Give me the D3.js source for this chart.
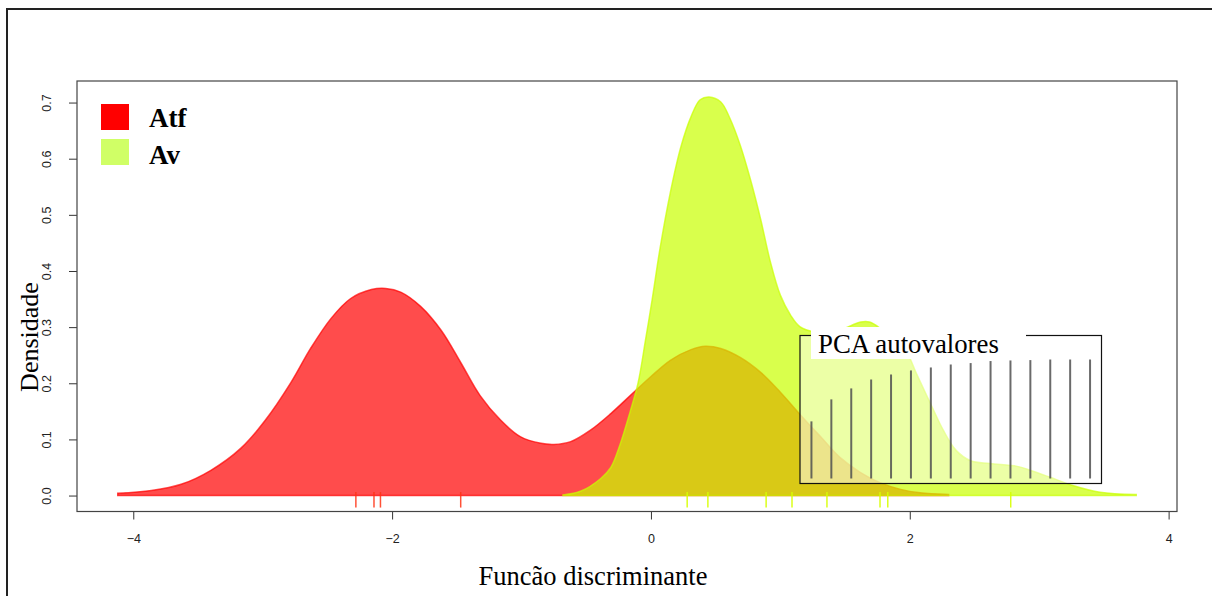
<!DOCTYPE html>
<html>
<head>
<meta charset="utf-8">
<script src="https://cdn.jsdelivr.net/npm/d3@7"></script>
<style>
body { margin: 0; background: #fff; }
svg { display: block; }
</style>
</head>
<body>
<script>
// densities along the discriminant function
var atfX = [-4.12, -3.86, -3.63, -3.40, -3.17, -2.98, -2.78, -2.63, -2.47, -2.32, -2.16, -2.05, -1.93,
	-1.78, -1.62, -1.47, -1.32, -1.16, -1.01, -0.85, -0.75, -0.62, -0.47, -0.31, -0.16, 0.00, 0.15,
	0.31, 0.42, 0.54, 0.69, 0.85, 1.00, 1.15, 1.31, 1.46, 1.62, 1.77, 1.93, 2.08, 2.30]
var atfDens = [0.004, 0.009, 0.020, 0.045, 0.084, 0.134, 0.202, 0.262, 0.316, 0.351, 0.367, 0.369, 0.362,
	0.337, 0.294, 0.237, 0.178, 0.134, 0.105, 0.093, 0.091, 0.096, 0.116, 0.146, 0.178, 0.212, 0.241,
	0.260, 0.266, 0.262, 0.246, 0.219, 0.184, 0.145, 0.105, 0.068, 0.041, 0.023, 0.011, 0.005, 0.002]

var avX = [-0.68, -0.54, -0.39, -0.31, -0.24, -0.16, -0.10, -0.04, 0.01, 0.07, 0.15, 0.23, 0.31,
	0.38, 0.45, 0.54, 0.61, 0.69, 0.77, 0.85, 0.92, 1.00, 1.08, 1.15, 1.27, 1.39, 1.50, 1.62, 1.69,
	1.77, 1.89, 1.98, 2.05, 2.16, 2.26, 2.36, 2.47, 2.62, 2.83, 2.93, 3.08, 3.26, 3.47, 3.75]
var avDens = [0.001, 0.008, 0.030, 0.050, 0.090, 0.150, 0.200, 0.280, 0.350, 0.440, 0.540, 0.620, 0.675,
	0.705, 0.710, 0.701, 0.672, 0.624, 0.562, 0.490, 0.419, 0.357, 0.321, 0.301, 0.291, 0.289, 0.298, 0.309, 0.309,
	0.298, 0.273, 0.253, 0.218, 0.164, 0.116, 0.080, 0.062, 0.057, 0.052, 0.045, 0.033, 0.018, 0.006, 0.002]

// individual scores (rug)
var atfRug = [-2.28, -2.14, -2.09, -1.47]
var avRug = [0.28, 0.44, 0.89, 1.09, 1.36, 1.77, 1.83, 2.78]

var groups = ['Atf', 'Av']
var xTicks = [-4, -2, 0, 2, 4]
var yTicks = [0, 0.1, 0.2, 0.3, 0.4, 0.5, 0.6, 0.7]

// PCA eigenvalues, cumulative %
var pcaEig = [48.0, 66.5, 75.7, 83.2, 87.4, 90.8, 93.3, 95.8, 97.0, 98.7, 99.2, 99.5, 100, 100, 100]

var W = 1212, H = 596
var box = { left: 77, right: 1177, top: 81, bottom: 511.5 }
var fills = { Atf: 'rgba(255,0,0,0.7)', Av: 'rgba(201,255,0,0.7)' }
var legendCols = { Atf: '#ff0000', Av: '#d0ff66' }

var svg = d3.select('body').append('svg')
	.attr('width', W)
	.attr('height', H)
	.style('font-family', '"Liberation Serif", "Times New Roman", serif')

// outer frame
svg.append('path')
	.attr('d', 'M7,596 L7,9 L1212,9')
	.attr('fill', 'none')
	.attr('stroke', '#222')
	.attr('stroke-width', 2)

// R style 4% extension of the ranges
function ext(lo, hi) {
	var d = (hi - lo) * 0.04
	return [lo - d, hi + d]
}
var allX = atfX.concat(avX)
var x = d3.scaleLinear()
	.domain(ext(d3.min(allX), d3.max(allX)))
	.range([box.left, box.right])
var y = d3.scaleLinear()
	.domain(ext(0, d3.max(atfDens.concat(avDens))))
	.range([box.bottom, box.top])

var area = d3.area()
	.x(function(d) { return x(d[0]) })
	.y0(y(0))
	.y1(function(d) { return y(d[1]) })
	.curve(d3.curveCatmullRom.alpha(0.5))

var dens = svg.append('g').attr('id', 'dens')
dens.append('path')
	.datum(d3.zip(atfX, atfDens))
	.attr('d', area)
	.attr('fill', fills.Atf)
	.attr('stroke', fills.Atf)
	.attr('stroke-width', 1.5)
dens.append('path')
	.datum(d3.zip(avX, avDens))
	.attr('d', area)
	.attr('fill', fills.Av)
	.attr('stroke', fills.Av)
	.attr('stroke-width', 1.5)

// rug
var rug = svg.append('g').attr('id', 'rug')
rug.selectAll('line.atf')
	.data(atfRug)
	.enter()
	.append('line')
	.attr('class', 'atf')
	.attr('x1', function(d) { return x(d) })
	.attr('x2', function(d) { return x(d) })
	.attr('y1', y(0) - 3.5)
	.attr('y2', y(0) + 12)
	.attr('stroke', 'rgba(255,50,20,0.85)')
	.attr('stroke-width', 1.5)
rug.selectAll('line.av')
	.data(avRug)
	.enter()
	.append('line')
	.attr('class', 'av')
	.attr('x1', function(d) { return x(d) })
	.attr('x2', function(d) { return x(d) })
	.attr('y1', y(0) - 3.5)
	.attr('y2', y(0) + 12)
	.attr('stroke', 'rgba(215,255,0,0.9)')
	.attr('stroke-width', 1.5)

// axes
var xAxis = svg.append('g')
	.attr('transform', 'translate(0,' + box.bottom + ')')
	.call(d3.axisBottom(x).tickValues(xTicks).tickSize(8).tickFormat(d3.format('d')))
xAxis.select('.domain').remove()
xAxis.selectAll('line').attr('stroke', '#333')
xAxis.selectAll('text')
	.attr('y', 31)
	.attr('dy', 0)
	.attr('fill', '#222')
	.style('font-family', '"Liberation Sans", Arial, sans-serif')
	.style('font-size', '12.5px')

var yAxis = svg.append('g')
	.attr('transform', 'translate(' + box.left + ',0)')
	.call(d3.axisLeft(y).tickValues(yTicks).tickSize(8).tickFormat(d3.format('.1f')))
yAxis.select('.domain').remove()
yAxis.selectAll('line').attr('stroke', '#333')
yAxis.selectAll('text')
	.attr('x', null)
	.attr('dy', 0)
	.attr('transform', 'translate(-26,0) rotate(-90)')
	.attr('text-anchor', 'middle')
	.attr('fill', '#222')
	.style('font-family', '"Liberation Sans", Arial, sans-serif')
	.style('font-size', '12.5px')

svg.append('rect')
	.attr('x', box.left)
	.attr('y', box.top)
	.attr('width', box.right - box.left)
	.attr('height', box.bottom - box.top)
	.attr('fill', 'none')
	.attr('stroke', '#444')
	.attr('stroke-width', 1.2)

svg.append('text')
	.attr('x', 593)
	.attr('y', 585)
	.attr('text-anchor', 'middle')
	.style('font-size', '26.5px')
	.text('Funcão discriminante')

svg.append('text')
	.attr('transform', 'translate(38,337) rotate(-90)')
	.attr('text-anchor', 'middle')
	.style('font-size', '26px')
	.text('Densidade')

// inset with PCA eigenvalues
var ins = { x: 800, y: 335.5, w: 301.5, h: 148 }
var inset = svg.append('g').attr('id', 'inset')
inset.append('rect')
	.attr('x', ins.x)
	.attr('y', ins.y)
	.attr('width', ins.w)
	.attr('height', ins.h)
	.attr('fill', 'rgba(255,255,255,0.5)')
	.attr('stroke', '#111')
	.attr('stroke-width', 1.2)

var ix = d3.scalePoint()
	.domain(d3.range(pcaEig.length))
	.range([ins.x, ins.x + ins.w])
	.padding(0.575)
var iy = d3.scaleLinear()
	.domain([0, d3.max(pcaEig)])
	.range([ins.y + ins.h - 5, ins.y + 24])

inset.selectAll('line.eig')
	.data(pcaEig)
	.enter()
	.append('line')
	.attr('class', 'eig')
	.attr('x1', function(d, i) { return ix(i) })
	.attr('x2', function(d, i) { return ix(i) })
	.attr('y1', iy(0))
	.attr('y2', function(d) { return iy(d) })
	.attr('stroke', 'rgba(80,80,80,0.85)')
	.attr('stroke-width', 2)

inset.append('rect')
	.attr('x', 811)
	.attr('y', 327)
	.attr('width', 215)
	.attr('height', 32)
	.attr('fill', '#fff')
inset.append('text')
	.attr('x', 818)
	.attr('y', 353)
	.style('font-size', '26.8px')
	.text('PCA autovalores')

// legend
var leg = svg.append('g').attr('id', 'legend')
groups.forEach(function(g, i) {
	leg.append('rect')
		.attr('x', 101)
		.attr('y', 104 + i * 35)
		.attr('width', 28)
		.attr('height', 26)
		.attr('fill', legendCols[g])
	leg.append('text')
		.attr('x', 149)
		.attr('y', 127 + i * 37)
		.style('font-size', '27px')
		.style('font-weight', 'bold')
		.text(g)
})
</script>
</body>
</html>
